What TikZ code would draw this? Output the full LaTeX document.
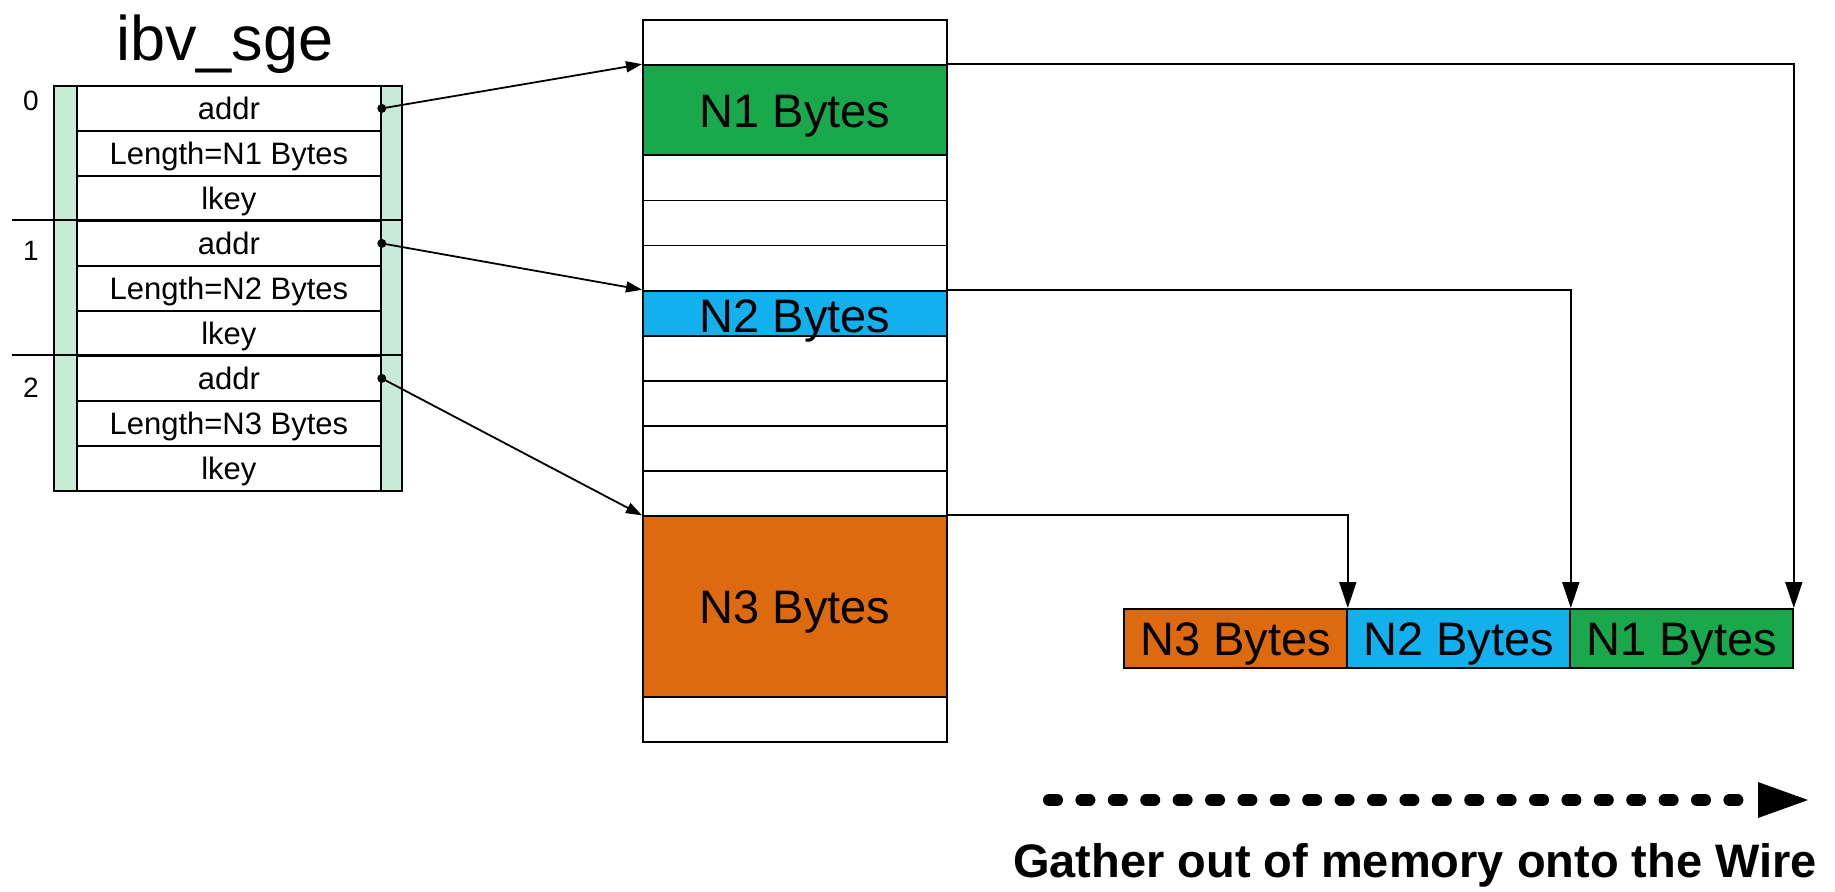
\documentclass[tikz,border=0pt]{standalone}
\usepackage{fontspec}
\setmainfont{Liberation Sans}
\usetikzlibrary{arrows.meta}
\definecolor{sgegreen}{RGB}{200,235,215}
\definecolor{nonegreen}{RGB}{26,168,76}
\definecolor{ntwoblue}{RGB}{18,176,236}
\definecolor{nthreeorange}{RGB}{222,106,16}
\tikzset{
  border/.style={line width=1.8},
  sgecell/.style={border, draw, fill=white, minimum width=304, minimum height=45, inner sep=0, anchor=north west},
  sgetext/.style={font=\fontsize{31}{31}\selectfont, inner sep=0, text height=22, text depth=0},
  idxtext/.style={font=\fontsize{28}{28}\selectfont, inner sep=0, text height=20, text depth=0},
  memcell/.style={border, draw, fill=white, minimum width=304, minimum height=45.125, inner sep=0, anchor=north west},
  bigtext/.style={font=\fontsize{47}{47}\selectfont, inner sep=0, text height=34, text depth=0},
  outcell/.style={border, draw, minimum width=223, minimum height=59, inner sep=0, anchor=north west},
  darrow/.style={border, -{Triangle[length=16,width=11]}},
  varrow/.style={border, -{Triangle[length=26,width=17]}},
}
\begin{document}
\begin{tikzpicture}[x=1pt,y=-1pt]
\useasboundingbox (0,0) rectangle (1835,891);

% title
\node[font=\fontsize{63}{63}\selectfont, inner sep=0, anchor=base] (title) at (225,60) {ibv\_sge};

% ibv_sge array
\node[border, draw, fill=sgegreen, minimum width=348, minimum height=405, inner sep=0, anchor=north west] (sge) at (53,85) {};
\node[sgecell] (a0) at (76,85) {};
\node[sgecell] (l0) at (76,130) {};
\node[sgecell] (k0) at (76,175) {};
\node[sgecell] (a1) at (76,220) {};
\node[sgecell] (l1) at (76,265) {};
\node[sgecell] (k1) at (76,310) {};
\node[sgecell] (a2) at (76,355) {};
\node[sgecell] (l2) at (76,400) {};
\node[sgecell] (k2) at (76,445) {};
\node[sgetext] at (a0) {addr};
\node[sgetext] at (l0) {Length=N1 Bytes};
\node[sgetext] at (k0) {lkey};
\node[sgetext] at (a1) {addr};
\node[sgetext] at (l1) {Length=N2 Bytes};
\node[sgetext] at (k1) {lkey};
\node[sgetext] at (a2) {addr};
\node[sgetext] at (l2) {Length=N3 Bytes};
\node[sgetext] at (k2) {lkey};
\coordinate (s1) at (12,220);
\coordinate (s2) at (12,355);
\draw[border] (s1) -- (s1 -| sge.east);
\draw[border] (s2) -- (s2 -| sge.east);
\node[idxtext] (i0) at (31,100) {0};
\node[idxtext] (i1) at (31,250) {1};
\node[idxtext] (i2) at (31,387) {2};

% memory column
\node[memcell] (m0) at (642,19) {};
\node[memcell, fill=nonegreen, minimum height=90.25] (n1) at (642,64.125) {};
\node[memcell] (m3) at (642,154.375) {};
\node[memcell] (m4) at (642,199.5) {};
\node[memcell] (m5) at (642,244.625) {};
\node[memcell, fill=ntwoblue] (n2) at (642,289.75) {};
\node[memcell] (m7) at (642,334.875) {};
\node[memcell] (m8) at (642,380) {};
\node[memcell] (m9) at (642,425.125) {};
\node[memcell] (m10) at (642,470.25) {};
\node[memcell, fill=nthreeorange, minimum height=180.5] (n3) at (642,515.375) {};
\node[memcell] (m15) at (642,695.875) {};
\node[bigtext] at (n1) {N1 Bytes};
\node[bigtext] at ([yshift=-2]n2.center) {N2 Bytes};
\node[bigtext] at (n3) {N3 Bytes};

% output on the wire
\node[outcell, fill=nthreeorange] (o3) at (1123,608) {};
\node[outcell, fill=ntwoblue] (o2) at (1346,608) {};
\node[outcell, fill=nonegreen] (o1) at (1569,608) {};
\node[bigtext] at (o3) {N3 Bytes};
\node[bigtext] at (o2) {N2 Bytes};
\node[bigtext] at (o1) {N1 Bytes};

% pointers
\fill (a0.east) circle (4.5);
\fill (a1.east) circle (4.5);
\fill (a2.east) circle (4.5);
\draw[darrow] (a0.east) -- (n1.north west);
\draw[darrow] (a1.east) -- (n2.north west);
\draw[darrow] (a2.east) -- (n3.north west);

% gather connectors
\draw[varrow] (n1.north east) -| (o1.north east);
\draw[varrow] (n2.north east) -| (o2.north east);
\draw[varrow] (n3.north east) -| (o3.north east);

% wire direction
\coordinate (w0) at (1049,800);
\coordinate (w1) at (1748,800);
\coordinate (h0) at (1758,800);
\coordinate (h1) at (1808,800);
\draw[line width=12, line cap=round, dash pattern=on 8 off 24.4] (w0) -- (w1);
\fill ([yshift=-18]h0) -- (h1) -- ([yshift=18]h0) -- cycle;
\node[font=\fontsize{47}{47}\selectfont\bfseries, inner sep=0, text height=33.6, text depth=0, anchor=south] (cap) at (1415,878) {Gather out of memory onto the Wire};
\end{tikzpicture}
\end{document}
